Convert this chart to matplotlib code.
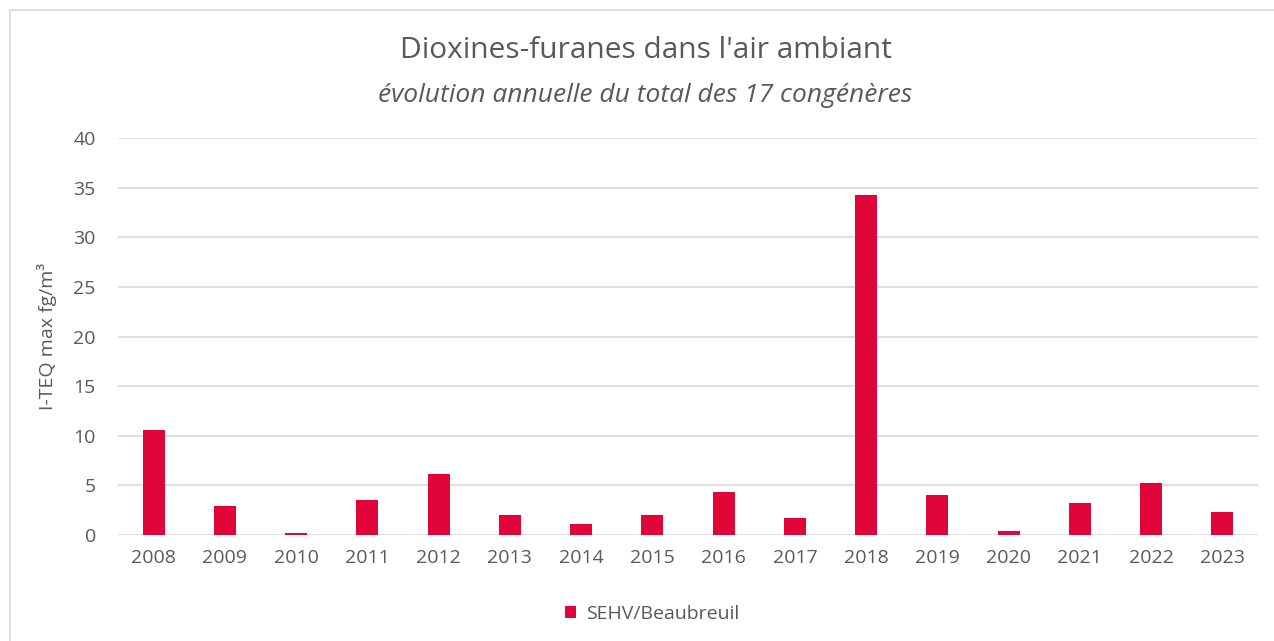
import matplotlib
matplotlib.use("Agg")
import matplotlib.pyplot as plt
from matplotlib.patches import Rectangle

years = ["2008", "2009", "2010", "2011", "2012", "2013", "2014", "2015",
         "2016", "2017", "2018", "2019", "2020", "2021", "2022", "2023"]
values = [10.6, 2.94, 0.2, 3.5, 6.1, 2.03, 1.11, 2.03,
          4.29, 1.69, 34.3, 4.05, 0.44, 3.18, 5.2, 2.36]
series_name = "SEHV/Beaubreuil"
yticks = [0, 5, 10, 15, 20, 25, 30, 35, 40]

bar_color = "#E1063A"
text_color = "#595959"
grid_color = "#D9D9D9"

plt.rcParams['font.family'] = ['Open Sans', 'DejaVu Sans']

W, H = 1274, 641
fig = plt.figure(figsize=(W / 100, H / 100), dpi=100)
fig.patch.set_facecolor("white")

# chart border
fig.patches.append(Rectangle((10 / W, -0.1), 1.2, (H - 10) / H + 0.1,
                             transform=fig.transFigure, fill=False,
                             edgecolor="#D9D9D9", linewidth=1.2))

ax = fig.add_axes([118 / W, (H - 535) / H, 1140 / W, 397 / H])
x = list(range(len(years)))
ax.bar(x, values, width=0.31, color=bar_color, zorder=3, label=series_name)
ax.set_xlim(-0.5, len(years) - 0.5)
ax.set_ylim(0, 40)
ax.set_yticks(yticks)
ax.set_xticks(x)
ax.set_xticklabels(years)
ax.grid(axis="y", color=grid_color, linewidth=1.2, zorder=0)
for s in ax.spines.values():
    s.set_visible(False)
ax.tick_params(axis="both", length=0, labelsize=14, colors=text_color)
ax.tick_params(axis="x", pad=10)
ax.tick_params(axis="y", pad=16)
ax.set_ylabel("I-TEQ max fg/m³", fontsize=14, color=text_color, labelpad=12)

fig.text(646 / W, 1 - 51 / H, "Dioxines-furanes dans l'air ambiant",
         ha="center", va="center", fontsize=21.5, color=text_color)
fig.text(645 / W, 1 - 95 / H, "évolution annuelle du total des 17 congénères",
         ha="center", va="center", fontsize=19, style="italic", color=text_color)

leg = fig.legend(loc="center", bbox_to_anchor=(652 / W, 1 - 614 / H), frameon=False,
                 fontsize=14, handlelength=0.6, handleheight=0.6, handletextpad=0.5)
for t in leg.get_texts():
    t.set_color(text_color)

fig.savefig("out.png", dpi=100)
